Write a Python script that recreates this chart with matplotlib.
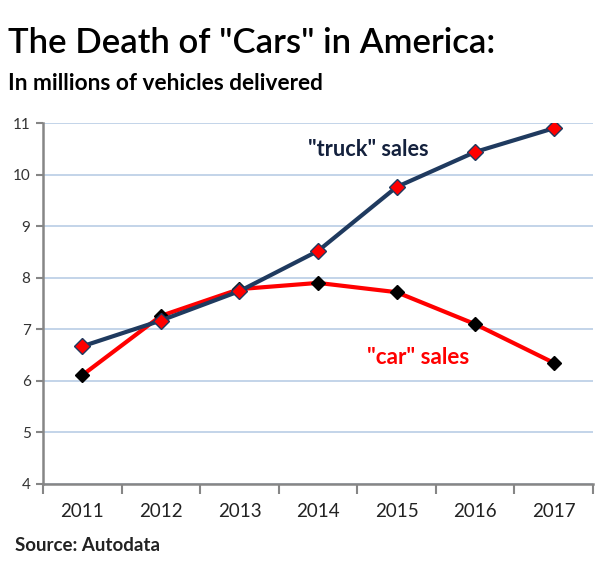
import matplotlib.pyplot as plt
import numpy as np

plt.rcParams['font.family'] = ['Lato', 'DejaVu Sans']

# data (millions of vehicles)
years = ['2011', '2012', '2013', '2014', '2015', '2016', '2017']
truck_sales = [6.67, 7.17, 7.74, 8.52, 9.76, 10.44, 10.90]
car_sales = [6.11, 7.26, 7.78, 7.90, 7.72, 7.10, 6.35]

navy = '#1f3a5f'
grid_col = '#b9cde5'
axis_col = '#868686'

fig = plt.figure(figsize=(6, 5.7), dpi=100)
ax = fig.add_axes([0.0717, 0.151, 0.9166, 0.633])

x = np.arange(len(years))

# car line first, truck on top
ax.plot(x, car_sales, color='#ff0000', lw=3, marker='D', ms=7,
        mfc='black', mec='black', zorder=3)
ax.plot(x, truck_sales, color=navy, lw=3, marker='D', ms=8,
        mfc='#ff0000', mec=navy, mew=1, zorder=4)

ax.set_xlim(-0.5, len(years) - 0.5)
ax.set_ylim(4, 11)
ax.set_yticks(range(4, 12))
ax.yaxis.grid(True, color=grid_col, lw=1.2)
ax.set_axisbelow(True)

# excel style: ticks between categories, labels at centres
ax.set_xticks(np.arange(-0.5, len(years), 1))
ax.set_xticklabels([])
ax.set_xticks(x, minor=True)
ax.set_xticklabels(years, minor=True, fontsize=13.5, color='#222222')
ax.tick_params(axis='x', which='major', length=7, width=1.5, color=axis_col, direction='out')
ax.tick_params(axis='x', which='minor', length=0, pad=14)
ax.tick_params(axis='y', length=5, width=1.5, color=axis_col, labelsize=11,
               labelcolor='#333333', pad=4)

for s in ['top', 'right']:
    ax.spines[s].set_visible(False)
for s in ['left', 'bottom']:
    ax.spines[s].set_color(axis_col)
    ax.spines[s].set_linewidth(1.8)

ax.text(3.64, 10.48, '"truck" sales', fontsize=15.6, fontweight='bold', color='#14213d',
        ha='center', va='center')
ax.text(4.27, 6.46, '"car" sales', fontsize=16.2, fontweight='bold', color='#ff0000',
        ha='center', va='center')

fig.text(0.013, 0.924, 'The Death of "Cars" in America:', fontsize=25, fontweight='semibold',
         color='black', ha='left', va='center')
fig.text(0.013, 0.853, 'In millions of vehicles delivered', fontsize=16.3, fontweight='bold',
         color='black', ha='left', va='center')
fig.text(0.025, 0.043, 'Source: Autodata', fontsize=13.5, fontweight='bold',
         color='#222222', ha='left', va='center')

fig.savefig('out.png', dpi=100)
